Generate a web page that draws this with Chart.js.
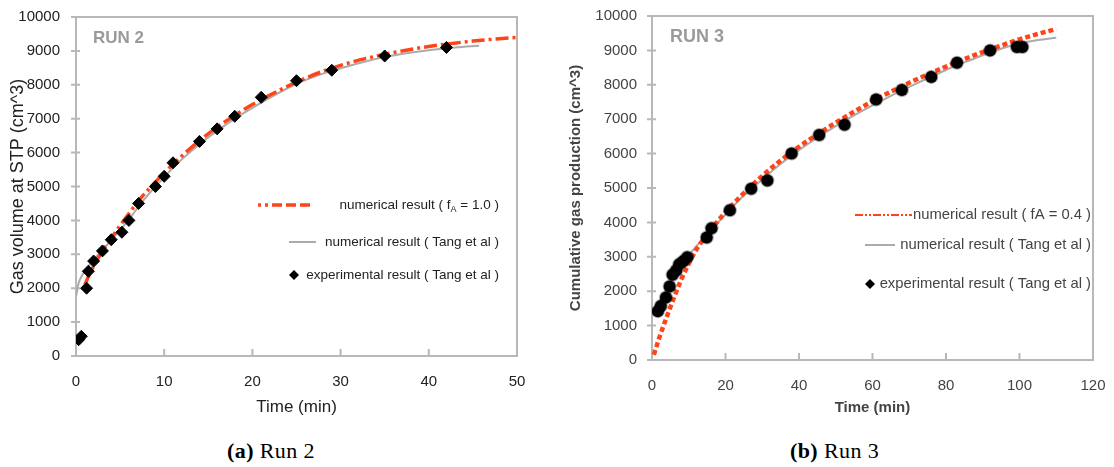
<!DOCTYPE html>
<html>
<head>
<meta charset="utf-8">
<script src="https://cdn.jsdelivr.net/npm/chart.js@4/dist/chart.umd.min.js"></script>
<style>
  body { margin: 0; background: #fff; width: 1114px; height: 467px; position: relative; overflow: hidden; }
  canvas { position: absolute; top: 0; }
  #run2 { left: 0; width: 545px; height: 425px; }
  #run3 { left: 555px; width: 559px; height: 425px; }
  .caption { position: absolute; top: 438px; font-family: 'Liberation Serif', 'Times New Roman', serif; font-size: 22px; letter-spacing: 0.4px; color: #000; }
</style>
</head>
<body>
<canvas id="run2" width="545" height="425"></canvas>
<canvas id="run3" width="559" height="425"></canvas>
<div class="caption" style="left:227px"><b>(a)</b> Run 2</div>
<div class="caption" style="left:790px"><b>(b)</b> Run 3</div>
<script>
const FONT = "'Liberation Sans', Arial, sans-serif";
const RED = '#ff4419';
const GRAY = '#ababab';

// Run 2 - experimental points
const run2ExpTime = [0.3, 0.6, 1.2, 1.4, 2.0, 3.0, 4.0, 5.2, 6.0, 7.1, 9.0, 10.0, 11.0, 14.0, 16.0, 18.0, 21.0, 25.0, 29.0, 35.0, 42.0];
const run2ExpVol = [480, 580, 2000, 2500, 2800, 3100, 3430, 3650, 4000, 4500, 5000, 5300, 5700, 6330, 6700, 7070, 7630, 8120, 8430, 8850, 9100];
// Run 2 - numerical result, fA = 1.0
const run2FaTime = [1.0, 1.5, 2, 3, 4, 5, 6, 7, 8, 9, 10, 12, 14, 16, 18, 20, 22, 25, 28, 31, 35, 40, 45, 50];
const run2FaVol = [2100, 2400, 2650, 3100, 3480, 3850, 4200, 4550, 4850, 5130, 5400, 5900, 6350, 6750, 7100, 7420, 7700, 8080, 8400, 8650, 8900, 9130, 9290, 9400];
// Run 2 - numerical result, Tang et al
const run2TangTime = [0, 0.3, 0.7, 1.2, 2, 3, 4, 5, 6, 7, 8, 9, 10, 11, 12, 14, 16, 18, 20, 22, 25, 28, 30, 35, 40, 43, 45.7];
const run2TangVol = [1750, 2150, 2380, 2580, 2830, 3120, 3420, 3720, 4020, 4380, 4700, 5000, 5270, 5550, 5800, 6250, 6640, 7000, 7320, 7620, 8030, 8330, 8490, 8820, 9020, 9100, 9150];

// Run 3 - experimental points
const run3ExpTime = [1.6, 2.4, 3.8, 4.8, 5.6, 6.6, 7.4, 8.5, 9.6, 14.9, 16.2, 21.2, 27.0, 31.4, 38.0, 45.5, 52.4, 61.0, 68.0, 76.0, 83.0, 92.0, 99.3, 100.8];
const run3ExpVol = [1420, 1570, 1820, 2140, 2480, 2600, 2780, 2870, 2990, 3560, 3830, 4350, 4980, 5220, 6000, 6540, 6840, 7570, 7850, 8230, 8640, 9000, 9100, 9100];
// Run 3 - numerical result, fA = 0.4
const run3FaTime = [0.5, 2, 4, 6, 8, 10, 12, 15, 20, 25, 30, 35, 40, 45, 50, 55, 60, 65, 70, 75, 80, 85, 90, 95, 100, 105, 110];
const run3FaVol = [150, 650, 1250, 1820, 2350, 2800, 3200, 3650, 4300, 4850, 5350, 5800, 6200, 6560, 6900, 7220, 7520, 7800, 8060, 8300, 8530, 8750, 8950, 9140, 9320, 9480, 9620];
// Run 3 - numerical result, Tang et al
const run3TangTime = [0, 1, 2, 3, 4, 5, 6, 7, 8, 9, 10, 12, 15, 20, 25, 30, 35, 40, 45, 50, 55, 60, 65, 70, 75, 80, 85, 90, 95, 100, 105, 110];
const run3TangVol = [1350, 1500, 1680, 1870, 2070, 2270, 2470, 2650, 2800, 2930, 3050, 3300, 3650, 4230, 4780, 5250, 5700, 6100, 6460, 6800, 7110, 7400, 7680, 7940, 8190, 8430, 8650, 8860, 9050, 9200, 9300, 9370];

const run2Labels = ['numerical result ( f_A = 1.0 )', 'numerical result ( Tang et al )', 'experimental result ( Tang et al )'];
const run3Labels = ['numerical result ( fA = 0.4 )', 'numerical result ( Tang et al )', 'experimental result ( Tang et al )'];

function toPoints(xs, ys) {
  return xs.map((x, i) => ({ x: x, y: ys[i] }));
}

// plot frame, inward tick marks and the run tag
const framePlugin = {
  id: 'frame',
  beforeDatasetsDraw(chart, args, opts) {
    const { ctx, chartArea: a, scales: { x, y } } = chart;
    ctx.save();
    ctx.strokeStyle = opts.color;
    ctx.lineWidth = 2;
    ctx.strokeRect(a.left, a.top, a.right - a.left, a.bottom - a.top);
    ctx.beginPath();
    y.ticks.forEach(t => {
      const py = y.getPixelForValue(t.value);
      ctx.moveTo(a.left - 5, py);
      ctx.lineTo(a.left + 4, py);
    });
    x.ticks.forEach(t => {
      const px = x.getPixelForValue(t.value);
      ctx.moveTo(px, a.bottom);
      ctx.lineTo(px, a.bottom - 7);
    });
    ctx.stroke();
    ctx.fillStyle = '#9a9a9a';
    ctx.font = 'bold ' + opts.runSize + 'px ' + FONT;
    ctx.textBaseline = 'middle';
    ctx.fillText(opts.run, a.left + opts.runDx, a.top + opts.runDy);
    ctx.restore();
  }
};

// legend drawn inside the plot, text right-aligned
const insetLegend = {
  id: 'insetLegend',
  afterDatasetsDraw(chart, args, opts) {
    const ctx = chart.ctx;
    const subSize = Math.round(opts.size * 0.7);
    ctx.save();
    ctx.textBaseline = 'middle';
    chart.data.datasets.forEach((ds, i) => {
      const row = opts.rows[i];
      ctx.font = opts.size + 'px ' + FONT;
      ctx.fillStyle = opts.textColor;
      const parts = ds.label.split(/_(.)/);
      let textW = ctx.measureText(parts[0]).width;
      if (parts.length > 1) {
        ctx.font = subSize + 'px ' + FONT;
        const subW = ctx.measureText(parts[1]).width;
        ctx.font = opts.size + 'px ' + FONT;
        textW += subW + ctx.measureText(parts[2]).width;
      }
      let tx = opts.right - textW;
      ctx.fillText(parts[0], tx, row.y);
      if (parts.length > 1) {
        tx += ctx.measureText(parts[0]).width;
        ctx.font = subSize + 'px ' + FONT;
        ctx.fillText(parts[1], tx, row.y + 5);
        tx += ctx.measureText(parts[1]).width;
        ctx.font = opts.size + 'px ' + FONT;
        ctx.fillText(parts[2], tx, row.y);
      }
      if (ds.type === 'line') {
        ctx.strokeStyle = ds.borderColor;
        ctx.lineWidth = row.width;
        ctx.setLineDash(row.dash || []);
        ctx.beginPath();
        ctx.moveTo(row.from, row.y);
        ctx.lineTo(row.to, row.y);
        ctx.stroke();
        ctx.setLineDash([]);
      } else {
        const r = 5;
        ctx.fillStyle = '#000';
        ctx.beginPath();
        ctx.moveTo(row.from, row.y - r);
        ctx.lineTo(row.from + r, row.y);
        ctx.lineTo(row.from, row.y + r);
        ctx.lineTo(row.from - r, row.y);
        ctx.closePath();
        ctx.fill();
      }
    });
    ctx.restore();
  }
};

function axis(min, max, step, size, color, bold, title, titleSize, pad, tickPad, fit) {
  return {
    type: 'linear', min: min, max: max,
    ticks: { stepSize: step, padding: tickPad, color: color, font: { size: size, family: FONT }, callback: v => String(v) },
    grid: { display: false },
    border: { display: false },
    title: { display: true, text: title, color: color, font: { size: titleSize, family: FONT, weight: bold ? 'bold' : 'normal' }, padding: pad },
    afterFit: fit
  };
}

new Chart(document.getElementById('run2'), {
  type: 'scatter',
  data: {
    datasets: [
      { label: run2Labels[0], type: 'line', data: toPoints(run2FaTime, run2FaVol), borderColor: RED, borderWidth: 3.5,
        borderDash: [13, 4, 3, 4], pointRadius: 0, cubicInterpolationMode: 'monotone', order: 1 },
      { label: run2Labels[1], type: 'line', data: toPoints(run2TangTime, run2TangVol), borderColor: GRAY, borderWidth: 2,
        pointRadius: 0, cubicInterpolationMode: 'monotone', order: 2 },
      { label: run2Labels[2], data: toPoints(run2ExpTime, run2ExpVol), pointStyle: 'rectRot', pointRadius: 6,
        backgroundColor: '#000', borderColor: '#000', order: 0 }
    ]
  },
  options: {
    responsive: false,
    animation: false,
    layout: { padding: { left: 0, right: 28, top: 15, bottom: 0 } },
    plugins: {
      legend: { display: false },
      tooltip: { enabled: false },
      frame: { color: '#b8b8b8', run: 'RUN 2', runSize: 17, runDx: 17, runDy: 21 },
      insetLegend: {
        size: 13.5, textColor: '#222', right: 499,
        rows: [
          { y: 205, from: 258, to: 312, width: 3.5, dash: [3, 4, 3, 4, 10, 4, 10, 4, 10, 4] },
          { y: 242, from: 289, to: 316, width: 2 },
          { y: 275, from: 294 }
        ]
      }
    },
    scales: {
      x: axis(0, 50, 10, 15, '#222', false, 'Time (min)', 17, { top: 0, bottom: 7 }, 9, s => { s.height = 69; }),
      y: axis(0, 10000, 1000, 15, '#222', false, 'Gas volume at STP (cm^3)', 18, { top: 7, bottom: 0 }, 8, s => { s.width = 76; })
    }
  },
  plugins: [framePlugin, insetLegend]
});

new Chart(document.getElementById('run3'), {
  type: 'scatter',
  data: {
    datasets: [
      { label: run3Labels[0], type: 'line', data: toPoints(run3FaTime, run3FaVol), borderColor: RED, borderWidth: 4.5,
        borderDash: [5, 3], pointRadius: 0, cubicInterpolationMode: 'monotone', order: 1 },
      { label: run3Labels[1], type: 'line', data: toPoints(run3TangTime, run3TangVol), borderColor: GRAY, borderWidth: 2,
        pointRadius: 0, cubicInterpolationMode: 'monotone', order: 2 },
      { label: run3Labels[2], data: toPoints(run3ExpTime, run3ExpVol), pointStyle: 'circle', pointRadius: 6,
        backgroundColor: '#000', borderColor: 'rgba(0,0,0,0.35)', borderWidth: 2, order: 0 }
    ]
  },
  options: {
    responsive: false,
    animation: false,
    layout: { padding: { left: 0, right: 16, top: 16, bottom: 0 } },
    plugins: {
      legend: { display: false },
      tooltip: { enabled: false },
      frame: { color: '#b8b8b8', run: 'RUN 3', runSize: 18, runDx: 18, runDy: 21 },
      insetLegend: {
        size: 14.8, textColor: '#444', right: 536,
        rows: [
          { y: 215, from: 300, to: 357, width: 2, dash: [8, 2, 2, 2, 2, 2] },
          { y: 245, from: 310, to: 340, width: 2 },
          { y: 284, from: 315 }
        ]
      }
    },
    scales: {
      x: axis(0, 120, 20, 15, '#444', true, 'Time (min)', 15, { top: 0, bottom: 8 }, 8.5, s => { s.height = 65; }),
      y: axis(0, 10000, 1000, 15, '#444', true, 'Cumulative gas production (cm^3)', 15, { top: 12, bottom: 0 }, 7, s => { s.width = 97; })
    }
  },
  plugins: [framePlugin, insetLegend]
});
</script>
</body>
</html>
